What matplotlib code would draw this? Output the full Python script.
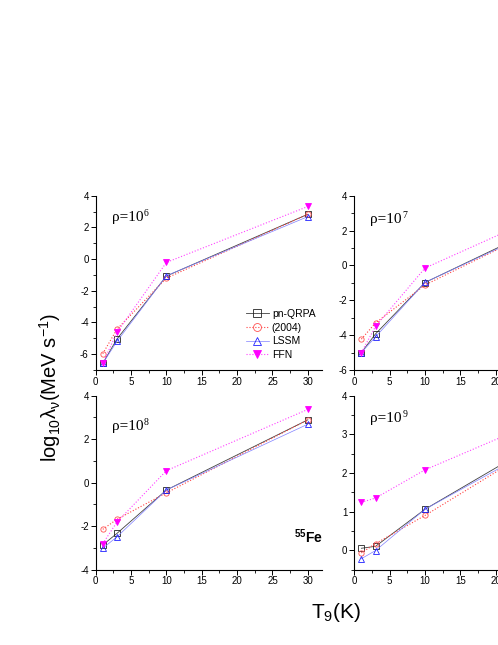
import numpy as np
import matplotlib
matplotlib.use('Agg')
import matplotlib.pyplot as plt
from matplotlib.ticker import MultipleLocator

plt.rcParams['font.family'] = ['Liberation Sans', 'DejaVu Sans']
plt.rcParams['axes.unicode_minus'] = False
plt.rcParams['mathtext.fontset'] = 'custom'
plt.rcParams['mathtext.rm'] = 'Liberation Sans'
plt.rcParams['mathtext.it'] = 'Liberation Sans'
plt.rcParams['mathtext.bf'] = 'Liberation Sans:bold'

# temperatures (T9)
T9 = [1, 3, 10, 30]

# log10 neutrino energy loss rates, one list per density
qrpa = {
    6: [-6.58, -5.05, -1.07, 2.83],
    7: [-5.0, -3.93, -0.98, 2.9],
    8: [-2.87, -2.34, -0.34, 2.89],
    9: [0.05, 0.10, 1.06, 3.2],
}
qrpa2004 = {
    6: [-5.97, -4.43, -1.2, 2.83],
    7: [-4.23, -3.3, -1.12, 2.85],
    8: [-2.15, -1.69, -0.47, 2.89],
    9: [-0.07, 0.17, 0.9, 3.14],
}
lssm = {
    6: [-6.58, -5.2, -1.05, 2.68],
    7: [-5.0, -4.1, -0.97, 2.78],
    8: [-3.02, -2.5, -0.34, 2.69],
    9: [-0.22, -0.01, 1.06, 3.08],
}
ffn = {
    6: [-6.58, -4.63, -0.21, 3.32],
    7: [-5.0, -3.5, -0.15, 3.5],
    8: [-2.81, -1.82, 0.55, 3.37],
    9: [1.24, 1.35, 2.08, 3.65],
}

ylims = {6: (-7, 4), 7: (-6, 4), 8: (-4, 4), 9: (-0.5, 4)}
ymajor = {6: 2, 7: 2, 8: 2, 9: 1}
label_y = {6: 0.895, 7: 0.885, 8: 0.84, 9: 0.889}

W, H = 498, 645
fig = plt.figure(figsize=(W / 100, H / 100), dpi=100)

# axes boxes in pixels: left, top, width, height
boxes = {
    6: (95.7, 195.7, 226.3, 174.3),
    7: (354.3, 195.7, 226.3, 174.3),
    8: (95.7, 395.7, 226.3, 173.8),
    9: (354.3, 395.7, 226.3, 173.8),
}

for rho in [6, 7, 8, 9]:
    l, t, w, h = boxes[rho]
    ax = fig.add_axes([l / W, 1 - (t + h) / H, w / W, h / H])
    ax.plot(T9, qrpa[rho], '-', color='#404040', lw=0.6, marker='s', ms=3.8,
            mfc='none', mec='#222222', mew=0.6, label='pn-QRPA')
    ax.plot(T9, qrpa2004[rho], ':', color='#ff4040', lw=0.8, marker='o', ms=3.8,
            mfc='none', mec='#ff5050', mew=0.6, label='(2004)')
    ax.plot(T9, lssm[rho], '-', color='#8080ff', lw=0.5, marker='^', ms=3.8,
            mfc='none', mec='#2020ff', mew=0.6, label='LSSM')
    ax.plot(T9, ffn[rho], ':', color='#ff40ff', lw=0.8, marker='v', ms=3.8,
            mfc='#ff00ff', mec='#ff00ff', mew=0.6, label='FFN')
    ax.set_xlim(0, 32)
    ax.set_ylim(*ylims[rho])
    ax.xaxis.set_major_locator(MultipleLocator(5))
    ax.xaxis.set_minor_locator(MultipleLocator(2.5))
    ax.yaxis.set_major_locator(MultipleLocator(ymajor[rho]))
    ax.yaxis.set_minor_locator(MultipleLocator(ymajor[rho] / 2))
    for s in ['top', 'right']:
        ax.spines[s].set_visible(False)
    for s in ['left', 'bottom']:
        ax.spines[s].set_linewidth(0.8)
    ax.tick_params(which='major', direction='out', length=3.5, width=0.7,
                   labelsize=7, pad=1.5)
    ax.tick_params(which='minor', direction='out', length=2, width=0.6)
    rt = ax.text(0.07, label_y[rho] - 0.02, 'ρ=10', transform=ax.transAxes,
                 family='Liberation Serif', fontsize=11, va='center', ha='left')
    ax.annotate(str(rho), xy=(1.0, 1.0), xycoords=rt, xytext=(0.5, 1.5),
                textcoords='offset points', family='Liberation Serif',
                fontsize=7, ha='left', va='top')
    if rho == 6:
        ax.legend(loc='upper left', bbox_to_anchor=(0.64, 0.38), frameon=False,
                  fontsize=7.5, handlelength=2.2, handletextpad=0.3,
                  labelspacing=0.35, markerscale=1.5, borderpad=0)
    if rho == 8:
        ax.text(0.94, 0.187, r'$^{\mathbf{55}}$Fe', transform=ax.transAxes,
                fontsize=10, fontweight='bold', ha='center', va='center')

fig.text(50 / W, 1 - 387 / H, 'log$_{10}$λ$_{ν}$(MeV s$^{-1}$)',
         rotation=90, fontsize=14.5, ha='center', va='center')
fig.text(336 / W, 1 - 612 / H, 'T$_9$(K)', fontsize=15, ha='center', va='center')

fig.savefig('out.png', dpi=100)
